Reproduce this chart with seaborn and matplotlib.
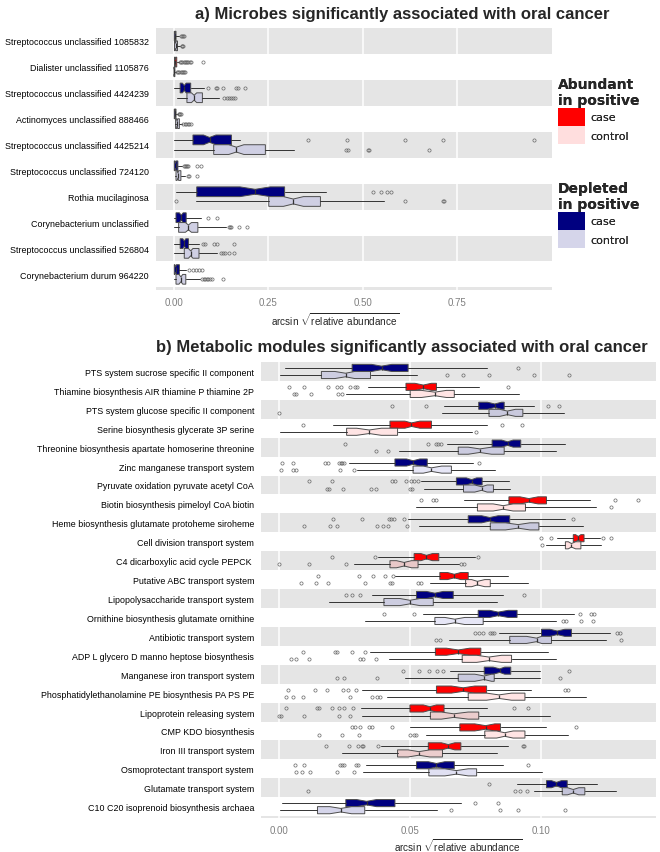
import matplotlib
matplotlib.use("Agg")
import matplotlib.pyplot as plt
from matplotlib.patches import Patch
import numpy as np
import seaborn as sns

# ---------------- panel a: microbes ----------------
a_names = ["Streptococcus unclassified 1085832", "Dialister unclassified 1105876",
           "Streptococcus unclassified 4424239", "Actinomyces unclassified 888466",
           "Streptococcus unclassified 4425214", "Streptococcus unclassified 724120",
           "Rothia mucilaginosa", "Corynebacterium unclassified",
           "Streptococcus unclassified 526804", "Corynebacterium durum 964220"]
a_kind = ["D", "A", "D", "D", "D", "D", "D", "D", "D", "D"]

a_case_lo = [0, 0, 0, 0, 0, 0, 0.005, 0, 0, 0]
a_case_q1 = [0.0005, 0.001, 0.016, 0.0005, 0.05, 0.0005, 0.06, 0.005, 0.016, 0.0005]
a_case_med = [0.002, 0.003, 0.027, 0.002, 0.094, 0.004, 0.215, 0.019, 0.027, 0.004]
a_case_q3 = [0.005, 0.007, 0.044, 0.005, 0.152, 0.01, 0.293, 0.032, 0.038, 0.014]
a_case_hi = [0.012, 0.013, 0.078, 0.01, 0.174, 0.02, 0.403, 0.071, 0.067, 0.032]
a_case_nlo = [0.001, 0.002, 0.022, 0.0012, 0.078, 0.0025, 0.175, 0.014, 0.023, 0.002]
a_case_nhi = [0.003, 0.004, 0.032, 0.0028, 0.111, 0.0055, 0.255, 0.024, 0.031, 0.006]
a_case_out = [[0.018, 0.021, 0.024, 0.027],
              [0.016, 0.019, 0.022, 0.025, 0.028, 0.031, 0.034, 0.038, 0.042, 0.045, 0.076],
              [0.091, 0.111, 0.113, 0.129, 0.165, 0.170, 0.187],
              [0.012, 0.014, 0.016, 0.018],
              [0.355, 0.458, 0.613, 0.714, 0.953],
              [0.025, 0.028, 0.031, 0.034, 0.037, 0.06, 0.072],
              [0.527, 0.548, 0.564, 0.574],
              [0.089, 0.115],
              [0.076, 0.082, 0.107, 0.113, 0.16],
              [0.04, 0.05, 0.058, 0.066, 0.074]]

a_ctrl_lo = [0, 0, 0.007, 0.002, 0, 0.003, 0.058, 0, 0, 0]
a_ctrl_q1 = [0.001, 0, 0.034, 0.004, 0.105, 0.005, 0.251, 0.012, 0.027, 0.005]
a_ctrl_med = [0.004, 0.0005, 0.053, 0.008, 0.165, 0.01, 0.316, 0.038, 0.044, 0.018]
a_ctrl_q3 = [0.009, 0.002, 0.075, 0.014, 0.242, 0.018, 0.388, 0.063, 0.066, 0.031]
a_ctrl_hi = [0.016, 0.005, 0.12, 0.02, 0.319, 0.03, 0.557, 0.138, 0.113, 0.069]
a_ctrl_nlo = [0.0025, 0.0002, 0.046, 0.0065, 0.145, 0.008, 0.29, 0.03, 0.038, 0.013]
a_ctrl_nhi = [0.0055, 0.0008, 0.06, 0.0095, 0.185, 0.012, 0.343, 0.046, 0.05, 0.023]
a_ctrl_out = [[0.021, 0.022, 0.023],
              [0.008, 0.011, 0.014, 0.017, 0.02, 0.023, 0.026, 0.029],
              [0.133, 0.14, 0.145, 0.15, 0.155, 0.162],
              [0.024, 0.028, 0.032, 0.036, 0.04, 0.044],
              [0.456, 0.461, 0.514, 0.517, 0.676],
              [0.038, 0.04, 0.06],
              [0.005, 0.613, 0.714, 0.716],
              [0.145, 0.148, 0.152, 0.173, 0.193],
              [0.124, 0.13, 0.136, 0.145, 0.16],
              [0.074, 0.078, 0.082, 0.086, 0.09, 0.094, 0.1, 0.129]]
a_ctrl_fill = ["#cfcfe3"] * 10

# ---------------- panel b: metabolic modules ----------------
b_names = ["PTS system sucrose specific II component",
           "Thiamine biosynthesis AIR thiamine P thiamine 2P",
           "PTS system glucose specific II component",
           "Serine biosynthesis glycerate 3P serine",
           "Threonine biosynthesis apartate homoserine threonine",
           "Zinc manganese transport system",
           "Pyruvate oxidation pyruvate acetyl CoA",
           "Biotin biosynthesis pimeloyl CoA biotin",
           "Heme biosynthesis glutamate protoheme siroheme",
           "Cell division transport system",
           "C4 dicarboxylic acid cycle PEPCK ",
           "Putative ABC transport system",
           "Lipopolysaccharide transport system",
           "Ornithine biosynthesis glutamate ornithine",
           "Antibiotic transport system",
           "ADP L glycero D manno heptose biosynthesis",
           "Manganese iron transport system",
           "Phosphatidylethanolamine PE biosynthesis PA PS PE",
           "Lipoprotein releasing system",
           "CMP KDO biosynthesis",
           "Iron III transport system",
           "Osmoprotectant transport system",
           "Glutamate transport system",
           "C10 C20 isoprenoid biosynthesis archaea"]
b_kind = ["D", "A", "D", "A", "D", "D", "D", "A", "D", "A", "A", "A",
          "D", "D", "D", "A", "D", "A", "A", "A", "A", "D", "D", "D"]

b_case_lo = [0.0023, 0.034, 0.0627, 0.0207, 0.0642, 0.0268, 0.0543, 0.0706, 0.049, 0.106, 0.0378, 0.0442,
             0.0355, 0.055, 0.0839, 0.0346, 0.0651, 0.0315, 0.0312, 0.0499, 0.0388, 0.033, 0.0905, 0.0013]
b_case_q1 = [0.0279, 0.0484, 0.0761, 0.0423, 0.0812, 0.0442, 0.0676, 0.0876, 0.0721, 0.1121, 0.0515, 0.0613,
             0.0524, 0.0759, 0.1, 0.0596, 0.0782, 0.06, 0.0499, 0.0689, 0.0569, 0.0524, 0.1019, 0.0255]
b_case_med = [0.0391, 0.055, 0.0822, 0.0505, 0.0871, 0.0511, 0.0734, 0.0952, 0.0803, 0.114, 0.0562, 0.0668,
              0.0594, 0.0835, 0.106, 0.0683, 0.0841, 0.0702, 0.0575, 0.0787, 0.0645, 0.06, 0.1057, 0.0334]
b_case_q3 = [0.0492, 0.06, 0.0858, 0.0581, 0.0921, 0.0565, 0.0774, 0.1019, 0.0879, 0.1162, 0.0609, 0.0721,
             0.0664, 0.0907, 0.1114, 0.0769, 0.0883, 0.0791, 0.0629, 0.0844, 0.0693, 0.0668, 0.1098, 0.0442]
b_case_hi = [0.0791, 0.0761, 0.097, 0.0793, 0.1091, 0.074, 0.0876, 0.1184, 0.1091, 0.1222, 0.0746, 0.0873,
             0.0854, 0.1124, 0.126, 0.1023, 0.0996, 0.0959, 0.0791, 0.1019, 0.0871, 0.0854, 0.1212, 0.0692]
b_case_nlo = [0.0353, 0.0518, 0.0794, 0.048, 0.0848, 0.0486, 0.0714, 0.0918, 0.0772, 0.113, 0.0541, 0.0642,
              0.0562, 0.0803, 0.1032, 0.0638, 0.0816, 0.0657, 0.055, 0.0746, 0.0619, 0.0569, 0.1038, 0.0296]
b_case_nhi = [0.043, 0.0581, 0.0848, 0.0537, 0.0892, 0.0537, 0.0753, 0.0987, 0.0835, 0.115, 0.0585, 0.0693,
              0.0626, 0.0873, 0.1089, 0.0727, 0.086, 0.0746, 0.06, 0.0822, 0.067, 0.0632, 0.1076, 0.0372]
b_case_out = [[0.0909],
              [0.0039, 0.0095, 0.0188, 0.022, 0.0236, 0.027, 0.0289, 0.0296, 0.0873],
              [0.0429, 0.056, 0.1025, 0.1066],
              [0.0093, 0.0848, 0.0926],
              [0.0251, 0.0569, 0.06, 0.0607, 0.0619],
              [0.0013, 0.0052, 0.0175, 0.0188, 0.0228, 0.0236, 0.0241, 0.0249, 0.0763],
              [0.0115, 0.0201, 0.0429, 0.0442, 0.0486, 0.0505, 0.0515, 0.0528],
              [0.0543, 0.0588, 0.06, 0.1279, 0.1368],
              [0.0208, 0.0315, 0.042, 0.0426, 0.0439, 0.0476, 0.1121],
              [0.1, 0.1038, 0.1235, 0.1264],
              [0.0201, 0.0365, 0.0759],
              [0.015, 0.0306, 0.0357, 0.0404, 0.0435],
              [0.0255, 0.0277, 0.0308, 0.0934],
              [0.0401, 0.0515, 0.1146, 0.1188, 0.12],
              [0.0746, 0.0761, 0.0778, 0.0803, 0.0812, 0.082, 0.1286, 0.1298],
              [0.0093, 0.0213, 0.0222, 0.0277, 0.0327],
              [0.0471, 0.0534, 0.0572, 0.0604, 0.0626, 0.1105],
              [0.0033, 0.0137, 0.0185, 0.0245, 0.0264, 0.0293, 0.1089, 0.1102],
              [0.0029, 0.0147, 0.0152, 0.0203, 0.0228, 0.0249, 0.0283, 0.0896, 0.0949],
              [0.028, 0.0289, 0.0308, 0.0344, 0.0353, 0.0429, 0.1133],
              [0.0181, 0.0268, 0.03, 0.0315, 0.0321, 0.0376, 0.0931, 0.0934],
              [0.0063, 0.0096, 0.0232, 0.0241, 0.0249, 0.0292, 0.0302, 0.0949],
              [0.0801],
              [0.0746, 0.0835]]

b_ctrl_lo = [0.0004, 0.0255, 0.0622, 0.0004, 0.0457, 0.0298, 0.0553, 0.0524, 0.0533, 0.1019, 0.0287, 0.0577,
             0.019, 0.0327, 0.0648, 0.0419, 0.0482, 0.041, 0.0317, 0.0562, 0.0241, 0.0321, 0.0972, 0.0004]
b_ctrl_q1 = [0.0162, 0.05, 0.08, 0.0258, 0.0683, 0.0511, 0.0703, 0.0756, 0.0805, 0.1091, 0.0423, 0.0711,
             0.04, 0.0594, 0.0879, 0.0698, 0.0683, 0.0721, 0.0577, 0.0784, 0.0452, 0.0571, 0.1079, 0.0147]
b_ctrl_med = [0.0254, 0.0594, 0.087, 0.0344, 0.0765, 0.0581, 0.0772, 0.0854, 0.0911, 0.1114, 0.0477, 0.0756,
              0.0499, 0.067, 0.0981, 0.08, 0.0782, 0.0838, 0.0666, 0.086, 0.0533, 0.0676, 0.1121, 0.0236]
b_ctrl_q3 = [0.0349, 0.0668, 0.0929, 0.0452, 0.0858, 0.0657, 0.0817, 0.0939, 0.099, 0.115, 0.053, 0.0805,
             0.0588, 0.0778, 0.1038, 0.0886, 0.082, 0.0937, 0.0761, 0.0937, 0.0623, 0.0753, 0.1165, 0.0327]
b_ctrl_hi = [0.0527, 0.0915, 0.1086, 0.0734, 0.1055, 0.0822, 0.0879, 0.1206, 0.1157, 0.1225, 0.0685, 0.0947,
             0.0829, 0.1057, 0.1244, 0.1057, 0.0996, 0.1168, 0.1034, 0.1102, 0.0831, 0.1003, 0.1282, 0.0604]
b_ctrl_nlo = [0.0213, 0.0543, 0.0841, 0.0296, 0.0721, 0.055, 0.0746, 0.0816, 0.0863, 0.1102, 0.0448, 0.0734,
              0.0461, 0.0632, 0.0943, 0.0753, 0.0746, 0.0791, 0.0619, 0.0829, 0.0492, 0.0632, 0.1099, 0.0194]
b_ctrl_nhi = [0.0289, 0.0638, 0.0901, 0.039, 0.081, 0.062, 0.0793, 0.0892, 0.0956, 0.113, 0.0505, 0.0784,
              0.0537, 0.0708, 0.1, 0.0848, 0.081, 0.0886, 0.0721, 0.0892, 0.0575, 0.0721, 0.1142, 0.0277]
b_ctrl_out = [[0.0642, 0.0702, 0.080, 0.0972, 0.1105],
              [0.0058, 0.0067, 0.0124, 0.0226, 0.0239],
              [0.0],
              [0.0749],
              [0.0369, 0.0414],
              [0.001, 0.0052, 0.0067, 0.0232, 0.0286],
              [0.0185, 0.019, 0.0245, 0.035, 0.0368, 0.0499, 0.0508],
              [0.1266],
              [0.0096, 0.0194, 0.0223, 0.0372, 0.0395, 0.0416, 0.0489],
              [0.1003],
              [0.0, 0.0114, 0.0254, 0.0695, 0.0706],
              [0.0086, 0.0143, 0.0188, 0.0327, 0.0423, 0.0429, 0.0528, 0.0541],
              [],
              [0.1082, 0.1095, 0.115, 0.1197],
              [0.06, 0.0613, 0.1302],
              [0.0048, 0.0064, 0.0114, 0.0308, 0.0319, 0.0368],
              [0.0223, 0.0249, 0.0372, 0.1072],
              [0.0027, 0.0055, 0.0093, 0.027, 0.0353, 0.0372, 0.0385],
              [0.0, 0.001, 0.0096, 0.023, 0.027],
              [0.0152, 0.0241, 0.0306, 0.0501, 0.0514, 0.0524],
              [],
              [0.0067, 0.009, 0.0118, 0.022, 0.0287],
              [0.0112, 0.0898, 0.0918, 0.0943],
              [0.0657, 0.0841, 0.0911, 0.1089]]
b_ctrl_fill = ["#cdcde0", "#ffe4e4", "#c9c9dd", "#ffe4e4", "#cbcbdf", "#e6e6f6", "#c9c9dd", "#ffe4e4",
               "#c9c9dd", "#ffe0e0", "#e8c8c8", "#ffe4e4", "#cdcde0", "#e6e6f6", "#c9c9dd", "#ffe4e4",
               "#c9c9dd", "#ffe4e4", "#ebcdcd", "#ffe4e4", "#ebcdcd", "#e0e0f2", "#c3c3d8", "#d5d5ea"]

case_colors = {"A": "#ff0000", "D": "#000080"}
legend_ctrl = {"A": "#ffdede", "D": "#d5d5ea"}

sns.set_theme(style="white")
plt.rcParams["font.family"] = ["Liberation Sans", "DejaVu Sans"]
plt.rcParams["mathtext.fontset"] = "custom"
plt.rcParams["mathtext.rm"] = "Liberation Sans"


def make_stats(lo, q1, med, q3, hi, nlo, nhi, out):
    return [dict(whislo=lo[i], q1=q1[i], med=med[i], q3=q3[i], whishi=hi[i],
                 cilo=nlo[i], cihi=nhi[i], fliers=np.array(out[i]))
            for i in range(len(med))]


def draw_panel(ax, names, kind, case, ctrl, ctrl_fill, xlim, xticks):
    n = len(names)
    ax.set_facecolor("#e5e5e5")
    ax.set_axisbelow(True)
    ax.grid(axis="x", color="white", linewidth=1.1)
    for i in range(1, n, 2):
        ax.axhspan(i - 0.5, i + 0.5, color="white", lw=0, zorder=0.8)
    pos = np.arange(n)
    w = 0.375
    common = dict(widths=w, orientation="horizontal", shownotches=True, patch_artist=True,
                  showcaps=False, manage_ticks=False,
                  boxprops=dict(edgecolor="#4d4d4d", linewidth=0.7),
                  whiskerprops=dict(color="#333333", linewidth=0.7),
                  medianprops=dict(color="#333333", linewidth=0.9),
                  flierprops=dict(marker="o", markersize=2.3, markerfacecolor="none",
                                  markeredgecolor="#666666", markeredgewidth=0.5))
    bc = ax.bxp(make_stats(*case), positions=pos - w / 2, **common)
    bt = ax.bxp(make_stats(*ctrl), positions=pos + w / 2, **common)
    for i, b in enumerate(bc["boxes"]):
        b.set_facecolor(case_colors[kind[i]])
        b.set_zorder(2)
    for i, b in enumerate(bt["boxes"]):
        b.set_facecolor(ctrl_fill[i])
        b.set_zorder(2)
    ax.set_ylim(n - 1 + 0.6, -0.5)
    ax.set_xlim(*xlim)
    ax.set_yticks(pos)
    ax.set_yticklabels(names, fontsize=6.4, color="black")
    ax.set_xticks(xticks)
    ax.set_xticklabels([f"{t:.2f}" for t in xticks], fontsize=7, color="#7f7f7f")
    ax.tick_params(axis="both", length=3, width=0.5, color="#555555", pad=2)
    for s in ax.spines.values():
        s.set_visible(False)
    ax.set_xlabel(r"arcsin $\sqrt{\mathrm{relative\ abundance}}$", fontsize=7.2)


fig = plt.figure(figsize=(6.6, 8.53), dpi=100)
W, H = 660, 853
axa = fig.add_axes([156 / W, 1 - 291 / H, 396 / W, 262 / H])
axb = fig.add_axes([261 / W, 1 - 819 / H, 395 / W, 456 / H])

draw_panel(axa, a_names, a_kind,
           (a_case_lo, a_case_q1, a_case_med, a_case_q3, a_case_hi, a_case_nlo, a_case_nhi, a_case_out),
           (a_ctrl_lo, a_ctrl_q1, a_ctrl_med, a_ctrl_q3, a_ctrl_hi, a_ctrl_nlo, a_ctrl_nhi, a_ctrl_out),
           a_ctrl_fill, (-0.048, 1.002), [0, 0.25, 0.5, 0.75])
axa.xaxis.set_label_coords(0.452, -20 / 262)

draw_panel(axb, b_names, b_kind,
           (b_case_lo, b_case_q1, b_case_med, b_case_q3, b_case_hi, b_case_nlo, b_case_nhi, b_case_out),
           (b_ctrl_lo, b_ctrl_q1, b_ctrl_med, b_ctrl_q3, b_ctrl_hi, b_ctrl_nlo, b_ctrl_nhi, b_ctrl_out),
           b_ctrl_fill, (-0.0068, 0.1436), [0, 0.05, 0.10])
axb.xaxis.set_label_coords(0.5, -18 / 456)

fig.text(402 / W, 1 - 14 / H, "a) Microbes significantly associated with oral cancer",
         ha="center", va="center", fontsize=12, fontweight="bold")
fig.text(402 / W, 1 - 348 / H, "b) Metabolic modules significantly associated with oral cancer",
         ha="center", va="center", fontsize=12, fontweight="bold")

for kind, title, ytop in [("A", "Abundant\nin positive", 1 - 78 / H), ("D", "Depleted\nin positive", 1 - 182 / H)]:
    handles = [Patch(facecolor=case_colors[kind], edgecolor="none"),
               Patch(facecolor=legend_ctrl[kind], edgecolor="none")]
    leg = fig.legend(handles, ["case", "control"], title=title, loc="upper left",
                     bbox_to_anchor=(558 / W, ytop), frameon=False, alignment="left",
                     prop=dict(family="DejaVu Sans", size=8),
                     handlelength=2.4, handleheight=2.1, labelspacing=0.05,
                     handletextpad=0.5, borderpad=0, borderaxespad=0)
    leg.get_title().set_fontproperties(dict(family="DejaVu Sans", weight="bold", size=10))
    fig.add_artist(leg)

fig.savefig("out.png", dpi=100)
